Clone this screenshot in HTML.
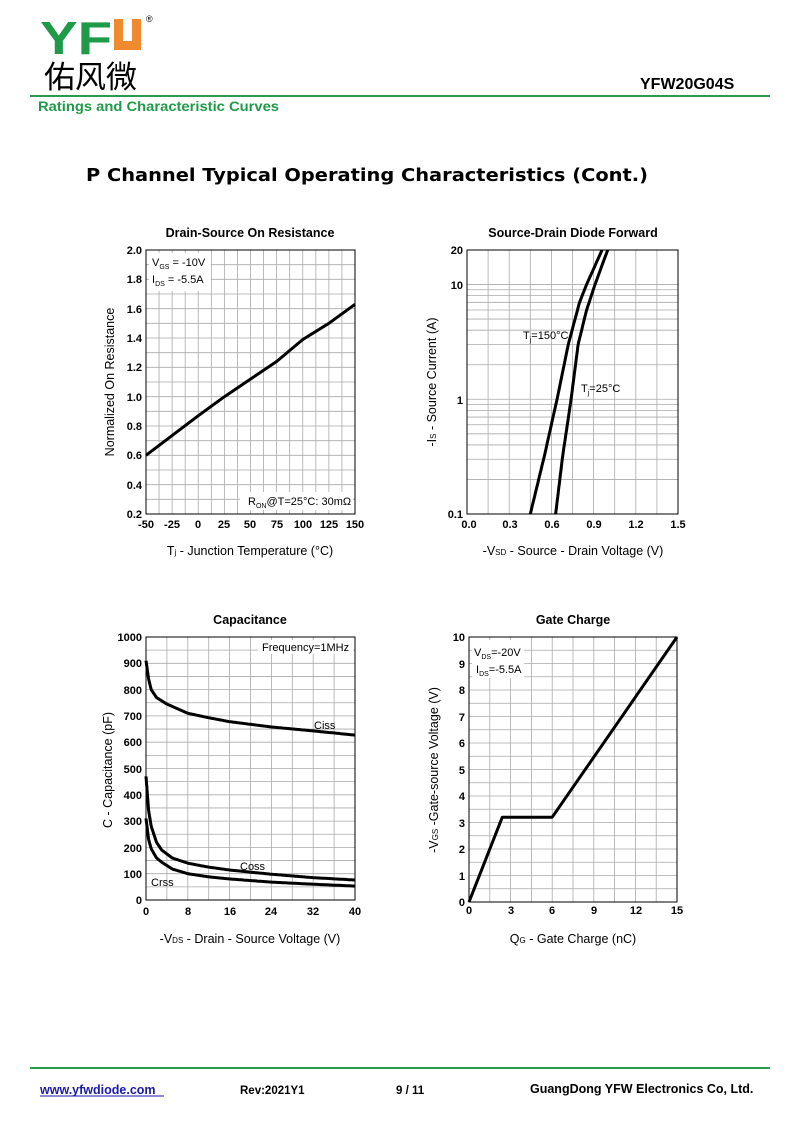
<!DOCTYPE html>
<html><head><meta charset="utf-8"><style>
html,body{margin:0;padding:0;background:#fff}
svg{display:block}
text{font-family:"Liberation Sans",Arial,sans-serif;font-weight:bold;fill:#000}
.t{font-size:11px}
.ti{font-size:12.5px}
.ax{font-size:12.5px;font-weight:normal}
.g line{stroke:#aaa;stroke-width:0.8}
.c{fill:none;stroke:#000;stroke-width:3;stroke-linejoin:round}
</style></head><body>
<svg id="s" width="800" height="1130" viewBox="0 0 800 1130" xmlns="http://www.w3.org/2000/svg">
<text x="40" y="54" style="font-size:46px;fill:#1f9a48;font-family:'Liberation Sans',sans-serif" textLength="72" lengthAdjust="spacingAndGlyphs">YF</text>
<path d="M114 19 h9 v22 h9 v-22 h9 v31 h-27z" fill="#ef8a2f"/>
<text x="146" y="22" style="font-size:9px;font-weight:normal">®</text>
<text x="44" y="88" style="font-size:31px;font-family:'Liberation Sans','Noto Sans CJK SC',sans-serif;font-weight:normal">佑风微</text>
<text x="640" y="89" style="font-size:16px">YFW20G04S</text>
<line x1="30" y1="96" x2="770" y2="96" stroke="#2a9a50" stroke-width="2"/>
<text x="38" y="111" style="font-size:13.5px;fill:#1f9a48" textLength="241" lengthAdjust="spacingAndGlyphs">Ratings and Characteristic Curves</text>
<text x="86" y="181" style="font-size:18px;font-family:'DejaVu Sans',sans-serif" textLength="562" lengthAdjust="spacingAndGlyphs">P Channel Typical Operating Characteristics (Cont.)</text>

<text class="ti" x="250" y="237" text-anchor="middle">Drain-Source On Resistance</text>
<text class="ti" x="573" y="237" text-anchor="middle">Source-Drain Diode Forward</text>
<text class="ti" x="250" y="624" text-anchor="middle">Capacitance</text>
<text class="ti" x="573" y="624" text-anchor="middle">Gate Charge</text>

<g id="grids" class="g"></g>
<g id="curves"></g>

<g class="t" text-anchor="end">
<text x="142" y="254">2.0</text><text x="142" y="283">1.8</text><text x="142" y="313">1.6</text><text x="142" y="342">1.4</text><text x="142" y="371">1.2</text><text x="142" y="401">1.0</text><text x="142" y="430">0.8</text><text x="142" y="459">0.6</text><text x="142" y="489">0.4</text><text x="142" y="518">0.2</text>
</g>
<g class="t" text-anchor="middle">
<text x="146" y="528">-50</text><text x="172" y="528">-25</text><text x="198" y="528">0</text><text x="224" y="528">25</text><text x="250" y="528">50</text><text x="277" y="528">75</text><text x="303" y="528">100</text><text x="329" y="528">125</text><text x="355" y="528">150</text>
</g>
<text class="ax" x="250" y="555" text-anchor="middle">T<tspan font-size="8">j</tspan> - Junction Temperature (°C)</text>
<text class="ax" transform="translate(114,382) rotate(-90)" text-anchor="middle">Normalized On Resistance</text>
<rect x="149" y="253" width="62" height="38" fill="#fff"/>
<text x="152" y="266" style="font-size:11px;font-weight:normal">V<tspan font-size="7" dy="3">GS</tspan><tspan dy="-3"> = -10V</tspan></text>
<text x="152" y="283" style="font-size:11px;font-weight:normal">I<tspan font-size="7" dy="3">DS</tspan><tspan dy="-3"> = -5.5A</tspan></text>
<rect x="240" y="492" width="113" height="18" fill="#fff"/>
<text x="248" y="505" style="font-size:11px;font-weight:normal">R<tspan font-size="7" dy="3">ON</tspan><tspan dy="-3">@T=25°C: 30mΩ</tspan></text>

<g class="t" text-anchor="end">
<text x="463" y="254">20</text><text x="463" y="289">10</text><text x="463" y="404">1</text><text x="463" y="518">0.1</text>
</g>
<g class="t" text-anchor="middle">
<text x="469" y="528">0.0</text><text x="510" y="528">0.3</text><text x="552" y="528">0.6</text><text x="594" y="528">0.9</text><text x="636" y="528">1.2</text><text x="678" y="528">1.5</text>
</g>
<text class="ax" x="573" y="555" text-anchor="middle">-V<tspan font-size="8">SD</tspan> - Source - Drain Voltage (V)</text>
<text class="ax" transform="translate(436,382) rotate(-90)" text-anchor="middle">-I<tspan font-size="8">S</tspan> - Source Current (A)</text>
<text x="523" y="339" style="font-size:11px;font-weight:normal">T<tspan font-size="7" dy="3">j</tspan><tspan dy="-3">=150°C</tspan></text>
<text x="581" y="392" style="font-size:11px;font-weight:normal">T<tspan font-size="7" dy="3">j</tspan><tspan dy="-3">=25°C</tspan></text>

<g class="t" text-anchor="end">
<text x="142" y="641">1000</text><text x="142" y="667">900</text><text x="142" y="694">800</text><text x="142" y="720">700</text><text x="142" y="746">600</text><text x="142" y="773">500</text><text x="142" y="799">400</text><text x="142" y="825">300</text><text x="142" y="852">200</text><text x="142" y="878">100</text><text x="142" y="904">0</text>
</g>
<g class="t" text-anchor="middle">
<text x="146" y="915">0</text><text x="188" y="915">8</text><text x="230" y="915">16</text><text x="271" y="915">24</text><text x="313" y="915">32</text><text x="355" y="915">40</text>
</g>
<text class="ax" x="250" y="943" text-anchor="middle">-V<tspan font-size="8">DS</tspan> - Drain - Source Voltage (V)</text>
<text class="ax" transform="translate(112,770) rotate(-90)" text-anchor="middle">C - Capacitance (pF)</text>
<rect x="258" y="640" width="95" height="14" fill="#fff"/>
<text x="262" y="651" style="font-size:11px;font-weight:normal">Frequency=1MHz</text>
<text x="314" y="729" style="font-size:11px;font-weight:normal">Ciss</text>
<text x="240" y="870" style="font-size:11px;font-weight:normal">Coss</text>
<text x="151" y="886" style="font-size:11px;font-weight:normal">Crss</text>

<g class="t" text-anchor="end">
<text x="465" y="641">10</text><text x="465" y="668">9</text><text x="465" y="694">8</text><text x="465" y="721">7</text><text x="465" y="747">6</text><text x="465" y="774">5</text><text x="465" y="800">4</text><text x="465" y="827">3</text><text x="465" y="853">2</text><text x="465" y="880">1</text><text x="465" y="906">0</text>
</g>
<g class="t" text-anchor="middle">
<text x="469" y="914">0</text><text x="511" y="914">3</text><text x="552" y="914">6</text><text x="594" y="914">9</text><text x="636" y="914">12</text><text x="677" y="914">15</text>
</g>
<text class="ax" x="573" y="943" text-anchor="middle">Q<tspan font-size="8">G</tspan> - Gate Charge (nC)</text>
<text class="ax" transform="translate(438,770) rotate(-90)" text-anchor="middle">-V<tspan font-size="8">GS</tspan> -Gate-source Voltage (V)</text>
<rect x="472" y="640" width="52" height="38" fill="#fff"/>
<text x="474" y="656" style="font-size:11px;font-weight:normal">V<tspan font-size="7" dy="3">DS</tspan><tspan dy="-3">=-20V</tspan></text>
<text x="476" y="673" style="font-size:11px;font-weight:normal">I<tspan font-size="7" dy="3">DS</tspan><tspan dy="-3">=-5.5A</tspan></text>

<line x1="30" y1="1068" x2="770" y2="1068" stroke="#2a9a50" stroke-width="2"/>
<text x="40" y="1094" style="font-size:12.5px;fill:#1a1aa8">www.yfwdiode.com</text>
<line x1="40" y1="1096" x2="164" y2="1096" stroke="#1a1aa8" stroke-width="1"/>
<text x="240" y="1094" style="font-size:11.5px">Rev:2021Y1</text>
<text x="396" y="1094" style="font-size:11.5px">9 / 11</text>
<text x="530" y="1093" style="font-size:12.5px">GuangDong YFW Electronics Co, Ltd.</text>
</svg>
<script>
var NS="http://www.w3.org/2000/svg",G=document.getElementById('grids'),C=document.getElementById('curves');
function L(x1,y1,x2,y2){var l=document.createElementNS(NS,'line');l.setAttribute('x1',x1);l.setAttribute('y1',y1);l.setAttribute('x2',x2);l.setAttribute('y2',y2);G.appendChild(l);}
function box(x0,y0,x1,y1){var r=document.createElementNS(NS,'rect');r.setAttribute('x',x0);r.setAttribute('y',y0);r.setAttribute('width',x1-x0);r.setAttribute('height',y1-y0);r.setAttribute('fill','none');r.setAttribute('stroke','#000');r.setAttribute('stroke-width','1');C.appendChild(r);}
function grid(x0,y0,x1,y1,nx,ny){for(var i=1;i<nx;i++){var x=x0+(x1-x0)*i/nx;L(x,y0,x,y1);}for(var j=1;j<ny;j++){var y=y0+(y1-y0)*j/ny;L(x0,y,x1,y);}}
function path(pts){var p=document.createElementNS(NS,'path');var d='';pts.forEach(function(q,i){d+=(i?'L':'M')+q[0].toFixed(1)+' '+q[1].toFixed(1);});p.setAttribute('d',d);p.setAttribute('class','c');C.appendChild(p);}
function interp(pts,x){for(var i=0;i<pts.length-1;i++){if(x<=pts[i+1][0]){var a=pts[i],b=pts[i+1],t=(x-a[0])/(b[0]-a[0]);return a[1]+t*(b[1]-a[1]);}}return pts[pts.length-1][1];}
grid(146,250,355,514,16,18);
var c1=[[-50,0.6],[0,0.87],[25,1.0],[75,1.24],[100,1.39],[125,1.5],[150,1.63]];
path(c1.map(function(p){return[146+(p[0]+50)/200*209,514-(p[1]-0.2)/1.8*264];}));
box(146,250,355,514);
grid(467,250,678,514,10,1);
var k=264/Math.log10(200);
[0.2,0.3,0.4,0.5,0.6,0.7,0.8,0.9,1,2,3,4,5,6,7,8,9,10].forEach(function(v){var y=514-Math.log10(v/0.1)*k;L(467,y,678,y);});
function c2(pts){var o=[];for(var i=0;i<=60;i++){var ly=Math.log10(0.1)+i/60*Math.log10(200);var yv=Math.pow(10,ly);var xv=interp(pts.map(function(p){return[Math.log10(p[1]),p[0]];}),ly);o.push([467+xv/1.5*211,514-Math.log10(yv/0.1)*k]);}path(o);}
c2([[0.45,0.1],[0.55,0.32],[0.64,1],[0.72,3],[0.8,7],[0.85,10],[0.96,20]]);
c2([[0.63,0.1],[0.68,0.32],[0.74,1],[0.79,3],[0.85,6],[0.91,10],[1.0,20]]);
box(467,250,678,514);
grid(146,637,355,900,10,20);
function capT(pts){var o=[];for(var i=0;i<=200;i++){var v=40*Math.pow(i/200,2);o.push([146+v/40*209,900-interp(pts,v)/1000*263]);}path(o);}
capT([[0,910],[0.5,840],[1,800],[2,770],[4,745],[8,710],[12,693],[16,678],[24,658],[32,643],[40,627]]);
capT([[0,470],[0.5,340],[1,280],[2,220],[3,190],[5,160],[8,140],[12,125],[16,114],[24,98],[32,85],[40,76]]);
capT([[0,310],[0.5,230],[1,195],[2,160],[3,144],[5,118],[8,100],[12,88],[16,80],[24,68],[32,60],[40,53]]);
box(146,637,355,900);
grid(469,637,677,902,10,20);
path([[0,0],[2.4,3.2],[6,3.2],[15,10]].map(function(p){return[469+p[0]/15*208,902-p[1]/10*265];}));
box(469,637,677,902);
</script>
</body></html>
